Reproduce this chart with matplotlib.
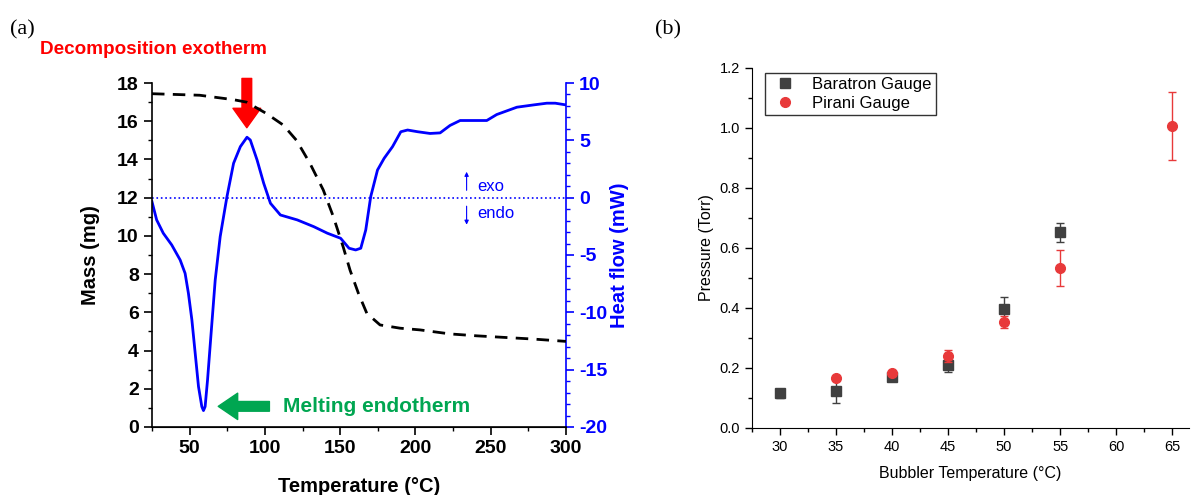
import matplotlib
matplotlib.use("Agg")
import matplotlib.pyplot as plt
from matplotlib.ticker import MultipleLocator
import numpy as np

plt.rcParams['font.family'] = ['Liberation Sans', 'DejaVu Sans']
plt.rcParams['axes.unicode_minus'] = False

# ---- Panel (a) data ----
hf_temp = [25, 28.1, 32.5, 38.1, 43.7, 47, 49.2, 51.5, 53.7, 55.9, 58.1, 59.2, 60.3, 61.9,
           64.1, 67, 70.3, 74.8, 79.2, 83.7, 88.1, 90.3, 94.8, 99.2, 103.7, 110.3, 121.5,
           132.5, 141.5, 150.3, 155.9, 160.3, 163.7, 167, 170.3, 174.8, 179.2, 184.8, 190.3,
           194.8, 201.5, 209.7, 216.4, 223, 229.7, 247.4, 254, 267.4, 278.5, 287.3, 292.9, 300]
hf_value = [-0.35, -1.94, -3.1, -4.12, -5.43, -6.6, -8.34, -10.66, -13.57, -16.48, -18.22,
            -18.57, -18.22, -15.9, -12.12, -7.18, -3.4, 0.09, 3.0, 4.45, 5.27, 5.03, 3.29,
            1.26, -0.49, -1.51, -1.94, -2.53, -3.1, -3.54, -4.41, -4.56, -4.41, -2.82, 0.09,
            2.41, 3.43, 4.45, 5.75, 5.9, 5.75, 5.6, 5.65, 6.3, 6.73, 6.73, 7.25, 7.89, 8.09,
            8.24, 8.24, 8.09]
mass_temp = [25, 56.7, 78.9, 87.8, 101.1, 112.2, 121, 129.9, 138.8, 145.5, 152.1, 156.6,
             162.1, 167.7, 176.5, 189.8, 203.1, 223, 240.8, 256.3, 278.5, 300]
mass_value = [17.44, 17.36, 17.13, 17.0, 16.4, 15.8, 15.0, 13.8, 12.4, 11.0, 9.4, 8.2,
              7.0, 5.95, 5.34, 5.17, 5.08, 4.87, 4.77, 4.7, 4.6, 4.48]

# ---- Panel (b) data ----
bar_temp = [30, 35, 40, 45, 50, 55]
bar_p = [0.115, 0.122, 0.170, 0.210, 0.396, 0.652]
bar_err = [0.015, 0.040, 0.008, 0.025, 0.040, 0.032]
pir_temp = [35, 40, 45, 50, 55, 65]
pir_p = [0.165, 0.183, 0.240, 0.353, 0.532, 1.007]
pir_err = [0.005, 0.005, 0.020, 0.020, 0.060, 0.113]

fig = plt.figure(figsize=(11.93, 4.95), dpi=100)

# ================= Panel (a) =================
ax = fig.add_axes([0.1274, 0.1374, 0.347, 0.6949])
ax2 = ax.twinx()

ax.plot(mass_temp, mass_value, color='black', ls=(0, (4.5, 3)), lw=2, zorder=3)
ax.set_zorder(ax2.get_zorder() + 1)
ax.patch.set_visible(False)
ax2.axhline(0, color='blue', ls=':', lw=1.2)
ax2.plot(hf_temp, hf_value, color='blue', lw=2, solid_joinstyle='round')

ax.set_xlim(25, 300)
ax.set_ylim(0, 18)
ax2.set_ylim(-20, 10)
ax.xaxis.set_major_locator(MultipleLocator(50))
ax.xaxis.set_minor_locator(MultipleLocator(25))
ax.yaxis.set_major_locator(MultipleLocator(2))
ax.yaxis.set_minor_locator(MultipleLocator(1))
ax2.yaxis.set_major_locator(MultipleLocator(5))
ax2.yaxis.set_minor_locator(MultipleLocator(1))

ax.spines['top'].set_visible(False)
ax2.spines['top'].set_visible(False)
ax.spines['right'].set_visible(False)
ax2.spines['left'].set_visible(False)
ax2.spines['right'].set_color('blue')
ax2.spines['right'].set_linewidth(1.2)
ax.spines['left'].set_linewidth(1.2)
ax.spines['bottom'].set_linewidth(1.2)

ax.tick_params(axis='both', which='major', length=6, width=1.2, labelsize=14, direction='out')
ax.tick_params(axis='both', which='minor', length=3, width=1, direction='out')
ax2.tick_params(axis='y', which='major', length=6, width=1.2, labelsize=14, colors='blue')
ax2.tick_params(axis='y', which='minor', length=3, width=1, colors='blue')
for lab in ax.get_xticklabels() + ax.get_yticklabels():
    lab.set_fontweight('bold')
for lab in ax2.get_yticklabels():
    lab.set_fontweight('bold')

ax.set_ylabel('Mass (mg)', fontsize=14.5, fontweight='bold', labelpad=12)
ax2.set_ylabel('Heat flow (mW)', fontsize=14.5, fontweight='bold', color='blue', labelpad=2)
ax.set_xlabel('Temperature (°C)', fontsize=14.5, fontweight='bold', labelpad=14)

# annotations
ax2.annotate('', xy=(88, 6.1), xytext=(88, 10.4),
             arrowprops=dict(facecolor='red', edgecolor='red', width=7, headwidth=20, headlength=14),
             annotation_clip=False)
ax2.annotate('', xy=(69, -18.2), xytext=(103, -18.2),
             arrowprops=dict(facecolor='#00a651', edgecolor='#00a651', width=7, headwidth=19, headlength=14))
ax2.text(112, -18.2, 'Melting endotherm', color='#00a651', fontsize=15, fontweight='bold',
         va='center', ha='left')
fig.text(0.0335, 0.899, 'Decomposition exotherm', color='red', fontsize=13.6,
         fontweight='bold', va='center', ha='left')
ax2.annotate('', xy=(234, 2.5), xytext=(234, 0.4),
             arrowprops=dict(arrowstyle='-|>', color='blue', lw=0.8, mutation_scale=6))
ax2.annotate('', xy=(234, -2.6), xytext=(234, -0.5),
             arrowprops=dict(arrowstyle='-|>', color='blue', lw=0.8, mutation_scale=6))
ax2.text(241, 1.0, 'exo', color='blue', fontsize=12, va='center', ha='left')
ax2.text(241, -1.35, 'endo', color='blue', fontsize=12, va='center', ha='left')

fig.text(0.008, 0.94, '(a)', family='Liberation Serif', fontsize=16, va='center')
fig.text(0.549, 0.94, '(b)', family='Liberation Serif', fontsize=16, va='center')

# ================= Panel (b) =================
bx = fig.add_axes([0.6303, 0.1354, 0.3663, 0.7273])
bx.errorbar(bar_temp, bar_p, yerr=bar_err, fmt='s', color='#404040', ms=6.5,
            ecolor='#404040', elinewidth=1, capsize=3, capthick=1, label='Baratron Gauge', zorder=3)
bx.errorbar(pir_temp, pir_p, yerr=pir_err, fmt='o', color='#e8393a', ms=7,
            ecolor='#e8393a', elinewidth=1, capsize=3, capthick=1, label='Pirani Gauge', zorder=4)
bx.set_xlim(27.5, 66.5)
bx.set_ylim(0, 1.2)
bx.xaxis.set_minor_locator(MultipleLocator(2.5))
bx.yaxis.set_minor_locator(MultipleLocator(0.1))
bx.set_yticks(np.arange(0, 1.21, 0.2))
bx.set_yticklabels(['0.0', '0.2', '0.4', '0.6', '0.8', '1.0', '1.2'])
bx.set_xticks(range(30, 66, 5))
bx.spines['top'].set_visible(False)
bx.spines['right'].set_visible(False)
bx.tick_params(axis='both', which='major', length=5, width=1, labelsize=10.5, direction='out')
bx.tick_params(axis='both', which='minor', length=3, width=1, direction='out')
bx.set_xlabel('Bubbler Temperature (°C)', fontsize=11.5, labelpad=9)
bx.set_ylabel('Pressure (Torr)', fontsize=11.5)
handles, labels = bx.get_legend_handles_labels()
handles = [h[0] for h in handles]
leg = bx.legend(handles, labels, loc='upper left', fontsize=12, frameon=True, fancybox=False,
                edgecolor='black', borderpad=0.25, handletextpad=0.6, labelspacing=0.25,
                handlelength=2.0, bbox_to_anchor=(0.01, 1.01))
leg.get_frame().set_linewidth(1)

fig.savefig('out.png', dpi=100)
